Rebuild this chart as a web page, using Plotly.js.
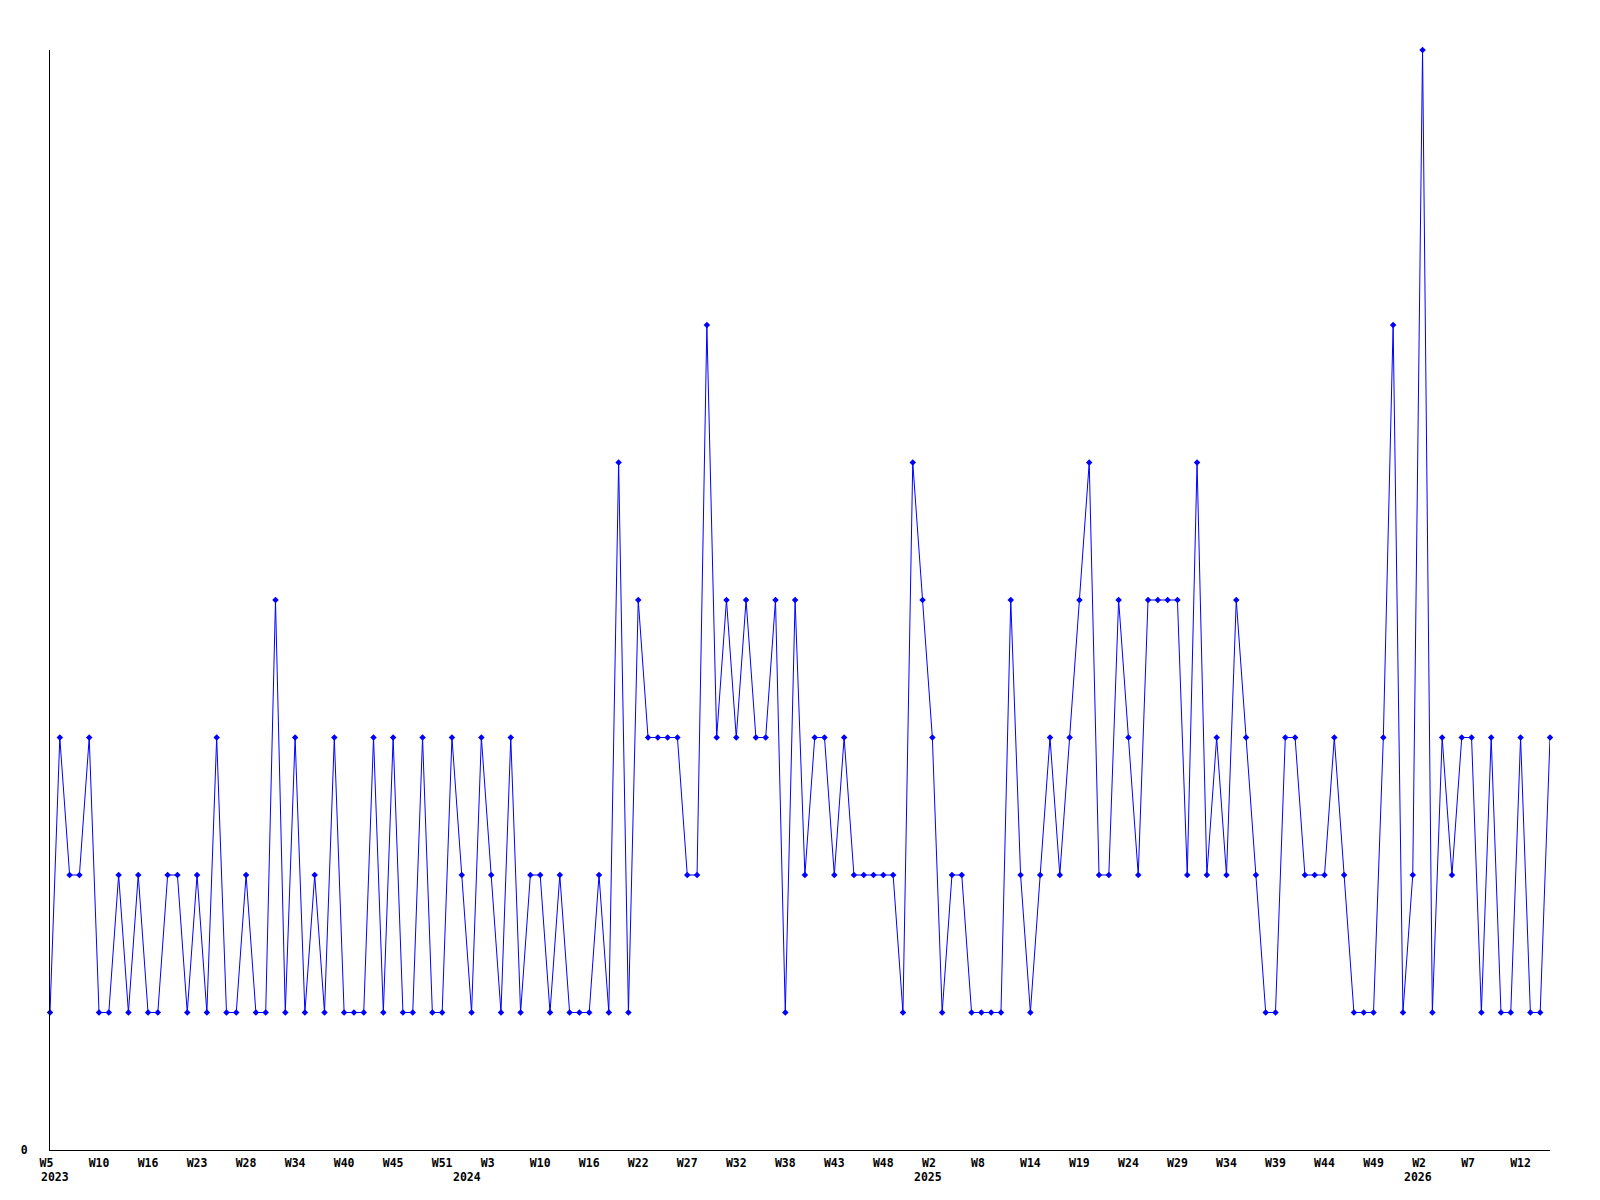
<!DOCTYPE html>
<html>
<head>
<meta charset="utf-8">
<script src="https://cdn.plot.ly/plotly-3.0.1.min.js"></script>
<style>
html,body{margin:0;padding:0;background:#fff;}
#chart{width:1600px;height:1200px;}
</style>
</head>
<body>
<div id="chart"></div>
<script>
// Weekly counts, one value per point (in order)
const values = [
  1,3,2,2,3,1,1,2,1,2,1,1,2,2,1,2,1,3,1,
  1,2,1,1,4,1,3,1,2,1,3,1,1,1,3,1,3,1,1,
  3,1,1,3,2,1,3,2,1,3,1,2,2,1,2,1,1,1,2,1,
  5,1,4,3,3,3,3,2,2,6,3,4,3,4,3,3,4,1,4,
  2,3,3,2,3,2,2,2,2,2,1,5,4,3,1,2,2,1,1,
  1,1,4,2,1,2,3,2,3,4,5,2,2,4,3,2,4,4,4,4,
  2,5,2,3,2,4,3,2,1,1,3,3,2,2,2,3,2,1,1,
  1,3,6,1,2,8,1,3,2,3,3,1,3,1,1,3,1,1,3
];

// Week tick labels (one every 5 points)
const weekLabels = [
  "W5","W10","W16","W23","W28","W34","W40","W45","W51",
  "W3","W10","W16","W22","W27","W32","W38","W43","W48",
  "W2","W8","W14","W19","W24","W29","W34","W39","W44","W49",
  "W2","W7","W12"
];

// Year labels (left edge, as a fraction of the plot width)
const yearLabels = ["2023","2024","2025","2026"];
const yearPos = [-0.0073, 0.2673, 0.5747, 0.9013];

const tickStep = 5;
const xIdx = values.map((_, i) => i);
const tickVals = weekLabels.map((_, i) => i * tickStep);
const tickText = weekLabels.map(t => t.length < 3 ? t + "\u00a0" : t);

const lblFont = {family: "DejaVu Sans Mono, monospace", size: 11.5, color: "#000", weight: "bold"};

const trace = {
  x: xIdx,
  y: values,
  type: "scatter",
  mode: "lines+markers",
  line: {color: "#0000ff", width: 1},
  marker: {color: "#0000ff", symbol: "diamond", size: 5},
  cliponaxis: false,
  hoverinfo: "skip",
  showlegend: false
};

const layout = {
  width: 1600,
  height: 1200,
  margin: {l: 50, r: 50, t: 50, b: 50, pad: 0},
  paper_bgcolor: "#fff",
  plot_bgcolor: "#fff",
  font: lblFont,
  showlegend: false,
  xaxis: {
    range: [0, values.length - 1],
    showgrid: false,
    zeroline: false,
    showline: true,
    linecolor: "#000",
    linewidth: 1,
    ticks: "",
    tickmode: "array",
    tickvals: tickVals,
    ticktext: tickText,
    tickangle: 0,
    tickfont: lblFont,
    ticklabelstandoff: 2,
    fixedrange: true
  },
  yaxis: {
    range: [0, 8],
    showgrid: false,
    zeroline: false,
    showline: true,
    linecolor: "#000",
    linewidth: 1,
    ticks: "",
    tickmode: "array",
    tickvals: [0],
    ticktext: ["0"],
    tickfont: lblFont,
    ticklabelstandoff: 19,
    fixedrange: true
  },
  annotations: yearLabels.map((t, i) => ({
    text: t,
    x: yearPos[i],
    xref: "paper",
    xanchor: "left",
    y: -0.0245,
    yref: "paper",
    yanchor: "middle",
    showarrow: false,
    font: lblFont
  }))
};

Plotly.newPlot("chart", [trace], layout, {displayModeBar: false, staticPlot: true});
</script>
</body>
</html>
